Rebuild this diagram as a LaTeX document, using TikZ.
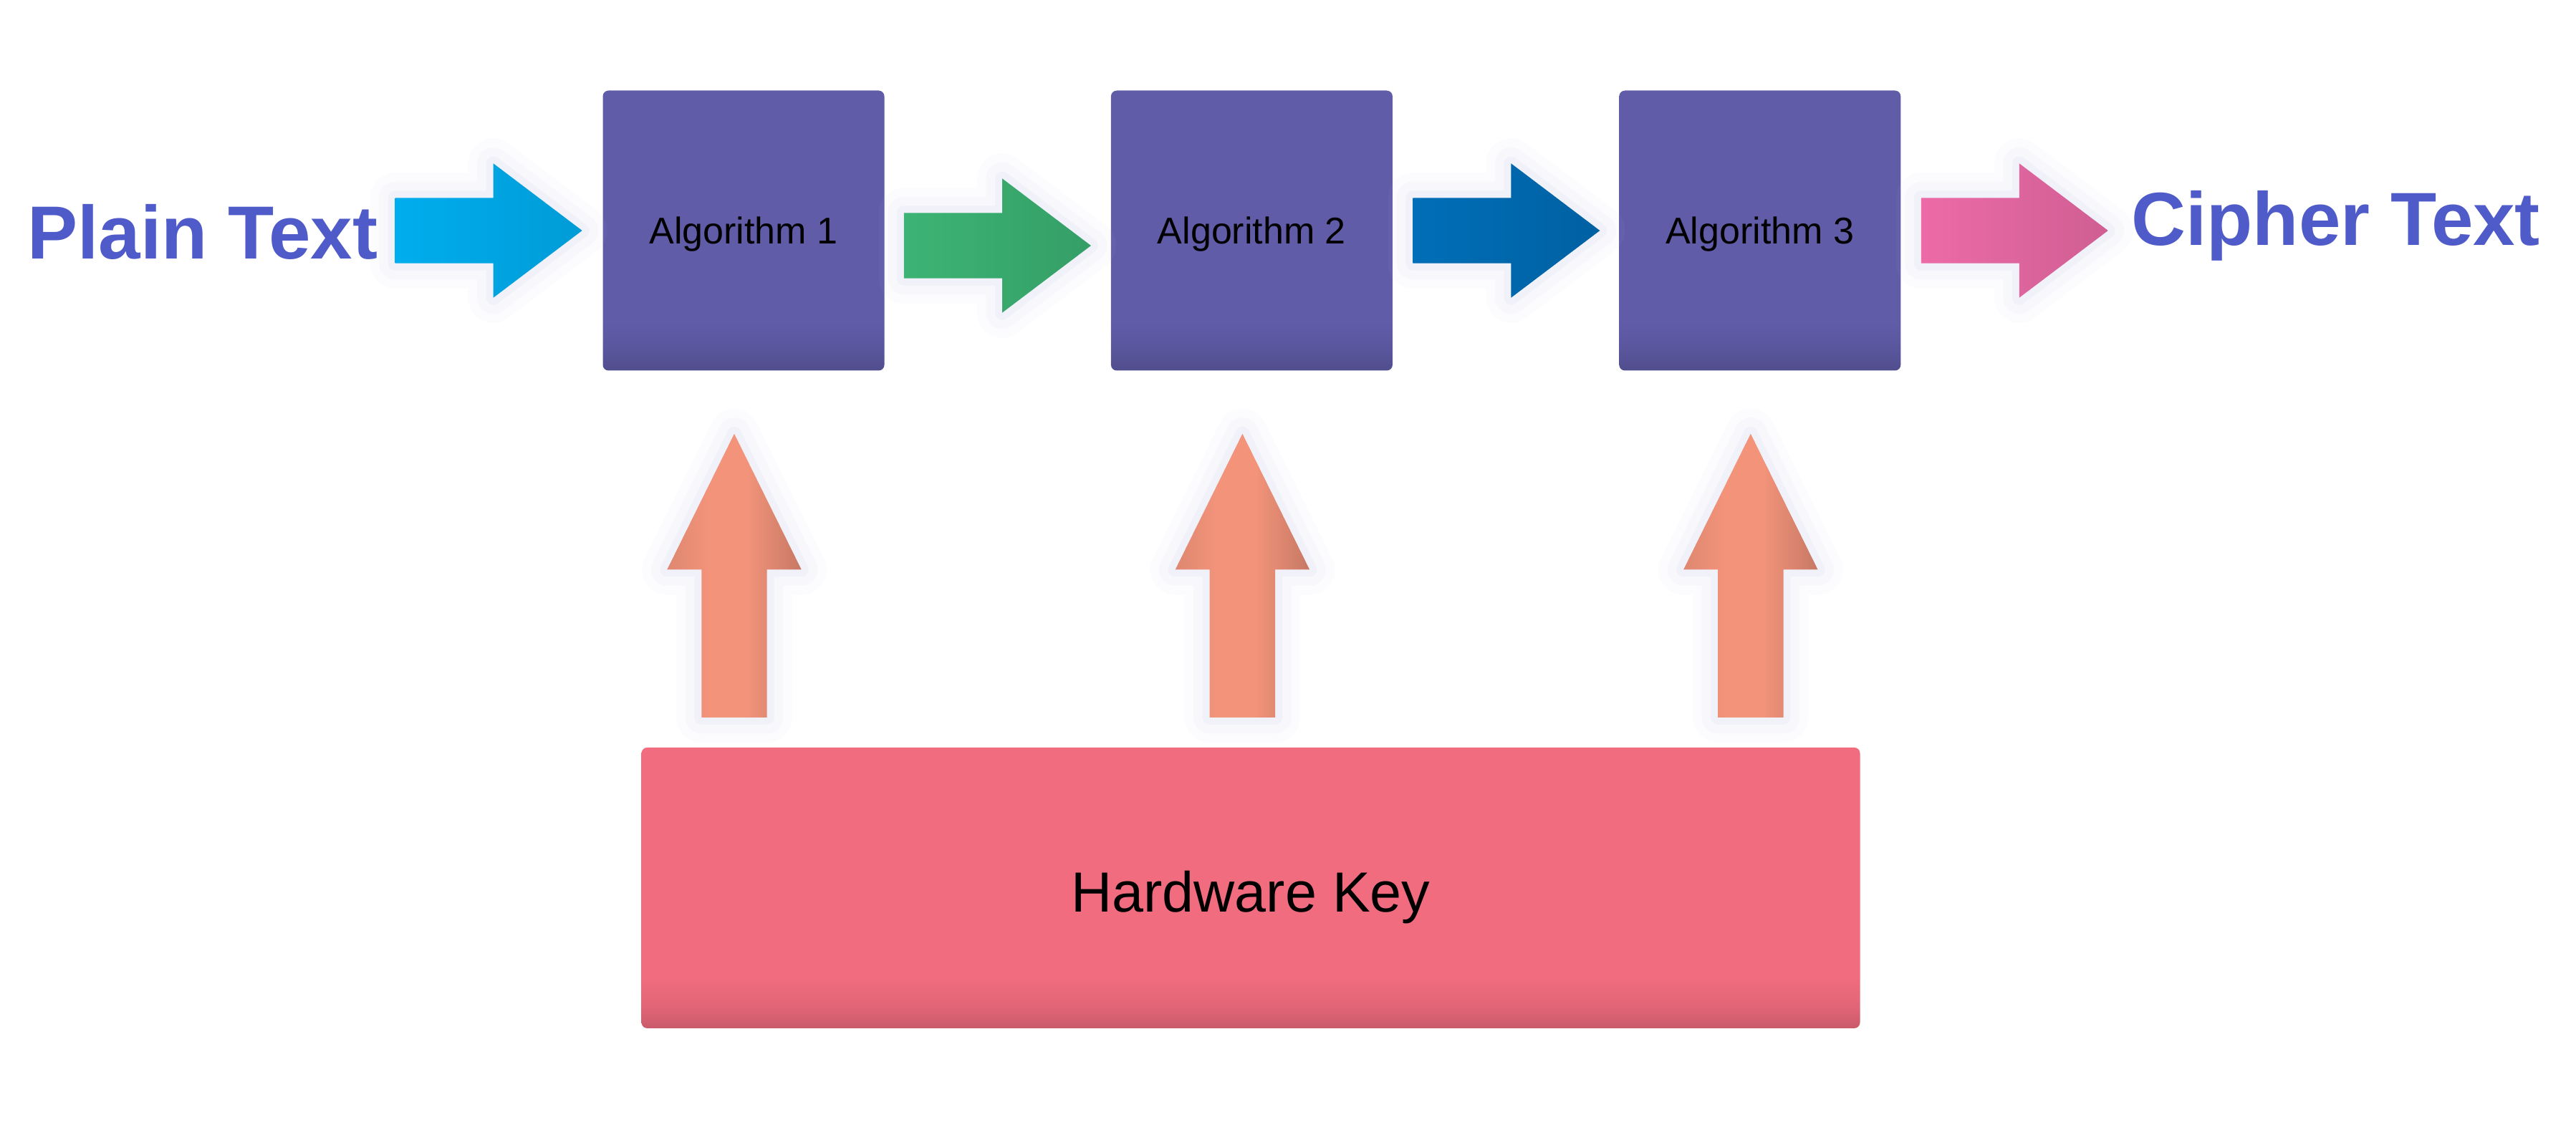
\documentclass[tikz,border=0pt]{standalone}
\usepackage{fontspec}
\setmainfont{Liberation Sans}
\usetikzlibrary{positioning, shapes.arrows}

\definecolor{textc}{HTML}{4F5BC8}
\definecolor{algc}{HTML}{605CA8}
\definecolor{plainc}{HTML}{00ADEE}
\definecolor{greenc}{HTML}{3CB474}
\definecolor{bluec}{HTML}{006EB8}
\definecolor{pinkc}{HTML}{EC6BA7}
\definecolor{keyc}{HTML}{F06C7E}
\definecolor{upc}{HTML}{F2937A}
\definecolor{glowc}{HTML}{BDBDE4}

\pgfdeclareverticalshading{algshade}{100bp}{color(0bp)=(algc!84!black); color(25bp)=(algc!84!black); color(29bp)=(algc!94!black); color(34bp)=(algc); color(100bp)=(algc)}
\pgfdeclareverticalshading{keyshade}{100bp}{color(0bp)=(keyc!84!black); color(25bp)=(keyc!84!black); color(29bp)=(keyc!94!black); color(34bp)=(keyc); color(100bp)=(keyc)}
\pgfdeclarehorizontalshading{upshade}{100bp}{color(0bp)=(upc!92!black); color(25bp)=(upc!92!black); color(40bp)=(upc); color(55bp)=(upc); color(75bp)=(upc!82!black); color(100bp)=(upc!82!black)}

\begin{document}
\begin{tikzpicture}[
    node distance=3.15cm,
    algbox/.style={rectangle, rounded corners=0.08cm, minimum width=3.93cm, minimum height=3.91cm, inner sep=0, text depth=0pt, shading=algshade, font=\fontsize{14.8pt}{17pt}\selectfont},
    keybox/.style={rectangle, rounded corners=0.08cm, minimum width=17.01cm, minimum height=3.92cm, inner sep=0, text depth=0pt, shading=keyshade, font=\fontsize{22.5pt}{26pt}\selectfont},
    glow/.style={preaction={draw=glowc, line width=0.7cm, opacity=0.05, line join=round}, preaction={draw=glowc, line width=0.45cm, opacity=0.07, line join=round}, preaction={draw=glowc, line width=0.2cm, opacity=0.10, line join=round}},
    flowarrow/.style={single arrow, glow, inner sep=0.45cm, minimum width=0pt, minimum height=2.61cm, single arrow head extend=0.48cm, single arrow tip angle=74.2},
    keyarrow/.style={single arrow, glow, shape border rotate=90, inner sep=0.45cm, minimum width=0pt, minimum height=3.96cm, single arrow head extend=0.48cm, single arrow tip angle=52.6, shading=upshade},
    bigtext/.style={inner sep=0, text=textc, font=\fontsize{29.9pt}{36pt}\selectfont\bfseries}
]
\useasboundingbox (0,0) rectangle (35.96,15.84);
% Algorithm chain
\node[algbox] (alg1) at (10.38,12.62) {Algorithm 1};
\node[algbox, right=of alg1] (alg2) {Algorithm 2};
\node[algbox, right=of alg2] (alg3) {Algorithm 3};
% Flow arrows
\node[flowarrow, left color=plainc, right color=plainc!90!black, left=0.27cm of alg1] (plainarr) {};
\node[flowarrow, left color=greenc, right color=greenc!88!black, right=0.26cm of alg1, yshift=-0.21cm] (arr12) {};
\node[flowarrow, left color=bluec, right color=bluec!88!black, right=0.27cm of alg2] (arr23) {};
\node[flowarrow, left color=pinkc, right color=pinkc!88!black, right=0.27cm of alg3] (cipharr) {};
% Texts
\node[bigtext, left=0.23cm of plainarr, anchor=base east, yshift=-0.40cm] (plain) {Plain Text};
\node[bigtext, right=0.31cm of cipharr, anchor=base west, yshift=-0.21cm] (cipher) {Cipher Text};
% Key
\node[keybox, anchor=north west] (hwkey) at ([xshift=0.54cm, yshift=-5.25cm]alg1.south west) {\raisebox{-0.10cm}{Hardware Key}};
\foreach \i in {1,2,3}
    \node[keyarrow, anchor=tip] (key\i) at ([xshift=-0.13cm, yshift=-0.86cm]alg\i.south) {};
\end{tikzpicture}
\end{document}
